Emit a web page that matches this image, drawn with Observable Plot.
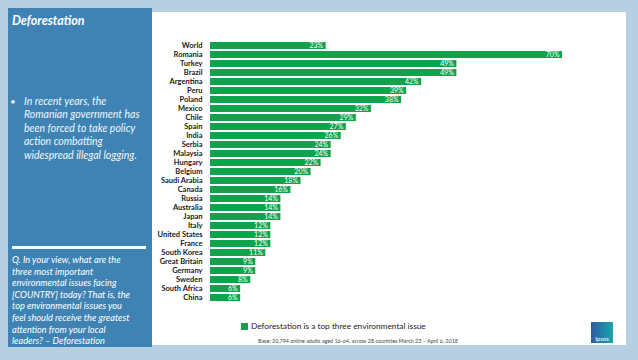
<!DOCTYPE html>
<html>
<head>
<meta charset="utf-8">
<script src="https://cdn.jsdelivr.net/npm/d3@7"></script>
<script src="https://cdn.jsdelivr.net/npm/@observablehq/plot@0.6"></script>
<style>
  html, body { margin: 0; padding: 0; }
  body { width: 638px; height: 360px; background: #b6d0e2; position: relative; overflow: hidden; font-family: Lato, "Open Sans", sans-serif; }
  .abs { position: absolute; }
  #white { left: 152px; top: 12px; width: 474px; height: 333px; background: #ffffff; }
  #panel { left: 8px; top: 8px; width: 144px; height: 339px; background: #3f83b5; color: #fff; }
  #title { left: 12px; top: 13px; font-size: 12.5px; font-weight: bold; font-style: italic; color: #fff; white-space: nowrap; }
  #bullet { left: 10px; top: 95px; font-size: 10px; font-style: italic; color: #f2f6fa; line-height: 13.4px; }
  #bullettext { left: 24px; top: 95px; font-size: 10.5px; font-style: italic; color: #f2f6fa; line-height: 13.4px; white-space: nowrap; }
  #divider { left: 12px; top: 246px; width: 134px; height: 3px; background: #f4f7fb; }
  #question { left: 12px; top: 254px; font-size: 9.2px; font-style: italic; color: #fff; line-height: 11.6px; white-space: nowrap; }
  #chart { left: 152px; top: 20px; }
  #legend { left: 241px; top: 321px; font-size: 8.3px; color: #222; white-space: nowrap; display: flex; align-items: center; }
  #legend .sw { width: 7px; height: 7px; background: #10a34b; margin-right: 3px; }
  #base { left: 258px; top: 338px; font-size: 5.4px; color: #444; white-space: nowrap; }
  #logo { left: 591px; top: 322px; width: 22px; height: 21px; background: linear-gradient(90deg, #2d5aa6, #1aa7a8); color: #fff; font-size: 6px; text-align: center; }
</style>
</head>
<body>
<div id="white" class="abs"></div>
<div id="panel" class="abs"></div>
<div id="title" class="abs">Deforestation</div>
<div id="bullet" class="abs">•</div>
<div id="bullettext" class="abs">In recent years, the<br>Romanian government has<br>been forced to take policy<br>action combatting<br>widespread illegal logging.</div>
<div id="divider" class="abs"></div>
<div id="question" class="abs">Q. In your view, what are the<br>three most important<br>environmental issues facing<br>[COUNTRY] today? That is, the<br>top environmental issues you<br>feel should receive the greatest<br>attention from your local<br>leaders? – Deforestation</div>
<div id="chart" class="abs"></div>
<div id="legend" class="abs"><div class="sw"></div><span>Deforestation is a top three environmental issue</span></div>
<div id="base" class="abs">Base: 20,794 online adults aged 16-64, across 28 countries March 23 – April 6, 2018</div>
<div id="logo" class="abs"><div style="height:13px;"></div><div style="line-height:7px;">Ipsos</div></div>
<script>
const countries = ["World","Romania","Turkey","Brazil","Argentina","Peru","Poland","Mexico","Chile","Spain","India","Serbia","Malaysia","Hungary","Belgium","Saudi Arabia","Canada","Russia","Australia","Japan","Italy","United States","France","South Korea","Great Britain","Germany","Sweden","South Africa","China"];
const values = [23,70,49,49,42,39,38,32,29,27,26,24,24,22,20,18,16,14,14,14,12,12,12,11,9,9,8,6,6];
const data = countries.map((c, i) => ({country: c, value: values[i]}));

const chart = Plot.plot({
  width: 474,
  height: 300,
  marginLeft: 58,
  marginRight: 64,
  marginTop: 8,
  marginBottom: 4,
  style: {fontFamily: "Lato, sans-serif", fontSize: "7.5px", background: "transparent"},
  x: {domain: [0, 70], axis: null},
  y: {domain: countries, paddingInner: 0.2, paddingOuter: 0.1, label: null},
  marks: [
    Plot.barX(data, {x: "value", y: "country", fill: "#10a34b"}),
    Plot.text(data, {x: "value", y: "country", text: d => d.value + "%", textAnchor: "end", dx: -3, fill: "white", fontSize: 7}),
    Plot.axisY({tickSize: 0, tickPadding: 8, fontWeight: "bold", fill: "#1a1a1a", label: null})
  ]
});
document.getElementById("chart").appendChild(chart);
</script>
</body>
</html>
